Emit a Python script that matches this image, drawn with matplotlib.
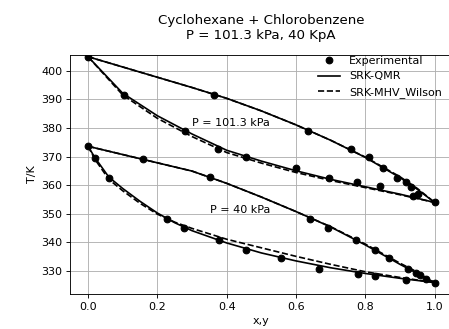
import matplotlib
matplotlib.use('Agg')
import matplotlib.pyplot as plt

# Experimental T-x-y data (x = liquid, y = vapour mole fraction of cyclohexane)
x_exp_101 = [0.0, 0.105, 0.28, 0.375, 0.457, 0.599, 0.695, 0.777, 0.841, 0.937, 1.0]
Tx_exp_101 = [405.0, 391.5, 379.0, 372.8, 369.9, 366.0, 362.5, 361.1, 359.6, 356.3, 353.9]
y_exp_101 = [0.363, 0.635, 0.760, 0.810, 0.851, 0.891, 0.916, 0.933, 0.951]
Ty_exp_101 = [391.5, 379.1, 372.8, 369.8, 366.0, 362.5, 361.1, 359.2, 357.0]

x_exp_40 = [0.0, 0.02, 0.061, 0.229, 0.278, 0.378, 0.457, 0.558, 0.667, 0.779, 0.827, 0.918, 1.0]
Tx_exp_40 = [373.6, 369.5, 362.5, 348.2, 345.0, 340.9, 337.1, 334.4, 330.4, 328.9, 328.2, 326.8, 325.8]
y_exp_40 = [0.159, 0.352, 0.640, 0.691, 0.774, 0.827, 0.868, 0.923, 0.947, 0.957, 0.976]
Ty_exp_40 = [369.3, 362.7, 348.2, 345.0, 340.6, 337.1, 334.4, 330.4, 329.2, 328.6, 327.1]

# Model curves, P = 101.3 kPa
xb_101 = [0, 0.1, 0.2, 0.3, 0.4, 0.5, 0.6, 0.7, 0.8, 0.9, 1.0]
Tb_qmr_101 = [405.0, 392.2, 384.3, 377.9, 372.2, 368.4, 365.0, 362.0, 359.4, 356.8, 353.9]
Tb_mhv_101 = [405.0, 391.6, 383.4, 377.0, 371.4, 367.7, 364.4, 361.6, 359.1, 356.6, 353.9]
yd_101 = [0, 0.1, 0.2, 0.3, 0.4, 0.5, 0.6, 0.7, 0.8, 0.9, 0.95, 1.0]
Td_qmr_101 = [405.0, 401.4, 397.8, 394.2, 390.4, 386.0, 381.1, 375.7, 369.7, 362.6, 358.5, 353.9]
Td_mhv_101 = [405.0, 401.4, 397.8, 394.2, 390.4, 386.0, 381.1, 375.7, 369.8, 362.9, 358.8, 353.9]

# Model curves, P = 40 kPa
xb_40 = [0, 0.02, 0.06, 0.1, 0.15, 0.2, 0.25, 0.3, 0.4, 0.5, 0.6, 0.7, 0.8, 0.9, 1.0]
Tb_qmr_40 = [373.6, 369.6, 362.8, 358.8, 354.3, 350.2, 346.8, 344.0, 339.7, 336.2, 333.4, 331.0, 329.0, 327.3, 325.8]
Tb_mhv_40 = [373.6, 369.0, 362.0, 358.0, 353.6, 349.8, 347.0, 344.8, 341.0, 338.0, 335.0, 332.2, 329.6, 327.6, 325.8]
yd_40 = [0, 0.1, 0.2, 0.3, 0.4, 0.5, 0.6, 0.7, 0.8, 0.9, 0.95, 1.0]
Td_qmr_40 = [373.6, 370.7, 367.8, 364.9, 360.6, 355.8, 350.7, 345.3, 339.0, 332.2, 329.0, 325.8]
Td_mhv_40 = [373.6, 370.7, 367.8, 364.9, 360.6, 355.8, 350.7, 345.4, 339.3, 332.6, 329.5, 325.8]

DPI = 80
fig = plt.figure(figsize=(449 / DPI, 329 / DPI), dpi=DPI)
ax = fig.add_axes([70 / 449, 35 / 329, 382 / 449, 239 / 329])

# experimental points
ax.plot(x_exp_101, Tx_exp_101, 'ko', label='Experimental')
ax.plot(y_exp_101, Ty_exp_101, 'ko')
ax.plot(x_exp_40, Tx_exp_40, 'ko')
ax.plot(y_exp_40, Ty_exp_40, 'ko')

# SRK-QMR (solid)
ax.plot(xb_101, Tb_qmr_101, 'k-', label='SRK-QMR')
ax.plot(yd_101, Td_qmr_101, 'k-')
ax.plot(xb_40, Tb_qmr_40, 'k-')
ax.plot(yd_40, Td_qmr_40, 'k-')

# SRK-MHV_Wilson (dashed)
ax.plot(xb_101, Tb_mhv_101, 'k--', label='SRK-MHV_Wilson')
ax.plot(yd_101, Td_mhv_101, 'k--')
ax.plot(xb_40, Tb_mhv_40, 'k--')
ax.plot(yd_40, Td_mhv_40, 'k--')

ax.text(0.30, 381.6, 'P = 101.3 kPa', ha='left', va='center')
ax.text(0.352, 351.4, 'P = 40 kPa', ha='left', va='center')

ax.set_xlim(-0.052, 1.05)
ax.set_ylim(321.8, 405.6)
ax.set_xlabel('x,y')
ax.set_ylabel('T/K')
ax.set_title('Cyclohexane + Chlorobenzene\nP = 101.3 kPa, 40 KpA', pad=14)
ax.grid(True)
ax.legend(loc='upper right', bbox_to_anchor=(1, 1.038), frameon=False)

fig.savefig('out.png', dpi=DPI)
